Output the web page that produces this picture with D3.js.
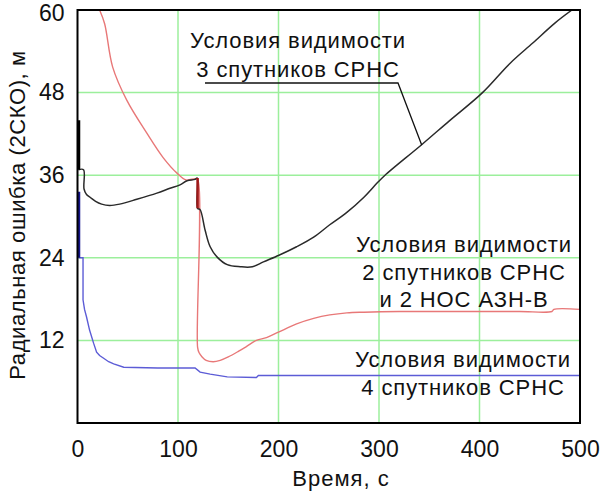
<!DOCTYPE html>
<html>
<head>
<meta charset="utf-8">
<script src="https://cdn.jsdelivr.net/npm/d3@7"></script>
<style>
  body { margin: 0; background: #fff; }
  svg { display: block; }
  text { font-family: "Liberation Sans", Arial, sans-serif; fill: #111; }
</style>
</head>
<body>
<div id="chart"></div>
<script>
// оси
var xTicks = [0, 100, 200, 300, 400, 500];
var yTicks = [12, 24, 36, 48, 60];
var gridX = [100, 200, 300, 400];
var gridY = [12, 24, 36, 48];

// 3 спутника СРНС (черная)
var blackT = [1, 1, 6, 6.5, 9, 12.5, 18, 24, 32, 42, 59, 79, 92, 102, 109, 117, 119, 119.5, 122, 127, 132, 139, 149, 162, 174, 185, 201, 218, 235, 251, 268, 285, 299, 306, 343, 370, 403, 430, 453, 475, 492];
var blackV = [36.8, 36.8, 36.8, 34, 33.2, 32.8, 32.2, 31.8, 31.6, 31.8, 32.5, 33.4, 34.1, 34.6, 35.2, 35.4, 35.6, 31.2, 31, 28, 25.6, 24.1, 23, 22.7, 22.7, 23.4, 24.4, 25.6, 27, 28.8, 30.6, 32.8, 35, 36, 40.5, 43.9, 48, 52.2, 55.2, 58.1, 60];
var blackSpike = [44, 36.8];

// 2 спутника СРНС и 2 НОС АЗН-В (красная)
var redT = [22, 27, 35, 49, 69, 85, 99, 108, 117, 119.5, 119.5, 121, 124, 128, 135, 142, 150, 160, 168, 178, 188, 200, 218, 235, 251, 268, 285, 320, 360, 400, 440, 472, 474, 500];
var redV = [60, 58, 51.7, 46.9, 42.1, 38.6, 36.3, 35.3, 35.5, 35.4, 11, 10.2, 9.6, 9.1, 8.9, 9.1, 9.6, 10.4, 11.1, 12, 12.4, 13.2, 14.4, 15.2, 15.7, 16, 16.1, 16.2, 16.2, 16.2, 16.2, 16.2, 16.5, 16.5];
var redSpike = [35.6, 31.2];

// 4 спутника СРНС (синяя)
var blueT = [1, 5.5, 5.5, 7, 9, 12, 16, 19, 22, 26, 31, 36, 46, 80, 117, 122, 132, 149, 178, 180, 500];
var blueV = [24, 24, 17.9, 16.5, 15.4, 13.5, 11.6, 10.3, 9.8, 9.4, 8.9, 8.6, 8.1, 8.0, 8.0, 7.4, 7.1, 6.7, 6.6, 6.9, 6.9];
var blueSpike = [33.6, 24];

var label3 = ["Условия видимости", "3 спутников СРНС"];
var label22 = ["Условия видимости", "2 спутников СРНС", "и 2 НОС АЗН-В"];
var label4 = ["Условия видимости", "4 спутников СРНС"];

var width = 600, height = 492;
var mLeft = 77.5, mRight = 580, mTop = 10, mBottom = 423;

var svg = d3.select('#chart').append('svg')
    .attr('width', width)
    .attr('height', height);

var x = d3.scaleLinear().domain([0, 500]).range([mLeft, mRight]);
var y = d3.scaleLinear().domain([0, 60]).range([mBottom, mTop]);

svg.append('clipPath').attr('id', 'clip')
  .append('rect')
    .attr('x', mLeft).attr('y', mTop)
    .attr('width', mRight - mLeft).attr('height', mBottom - mTop);

// сетка
svg.selectAll('.gx').data(gridX).enter()
  .append('line')
    .attr('x1', function(d){ return x(d); })
    .attr('x2', function(d){ return x(d); })
    .attr('y1', mTop).attr('y2', mBottom)
    .style('stroke', '#9cef9c').style('stroke-width', 1.5);
svg.selectAll('.gy').data(gridY).enter()
  .append('line')
    .attr('y1', function(d){ return y(d); })
    .attr('y2', function(d){ return y(d); })
    .attr('x1', mLeft).attr('x2', mRight)
    .style('stroke', '#9cef9c').style('stroke-width', 1.5);

var smooth = d3.line()
    .x(function(d){ return x(d[0]); })
    .y(function(d){ return y(d[1]); })
    .curve(d3.curveCatmullRom.alpha(0.5));
var line = d3.line()
    .x(function(d){ return x(d[0]); })
    .y(function(d){ return y(d[1]); });

function pairs(t, v) {
  return t.map(function(d, i){ return [d, v[i]]; });
}

var plot = svg.append('g').attr('clip-path', 'url(#clip)');

plot.append('path')
    .datum(pairs(redT, redV))
    .attr('d', smooth)
    .style('fill', 'none').style('stroke', '#e87878').style('stroke-width', 1.4);

plot.append('path')
    .datum(pairs(blueT, blueV))
    .attr('d', line)
    .style('fill', 'none').style('stroke', '#5c5cd6').style('stroke-width', 1.4);

plot.append('path')
    .datum(pairs(blackT, blackV))
    .attr('d', smooth)
    .style('fill', 'none').style('stroke', '#2a2a2a').style('stroke-width', 1.5);

// толстые вертикальные участки
plot.append('path')
    .datum([[1, blackSpike[0]], [1, blackSpike[1]]])
    .attr('d', line)
    .style('fill', 'none').style('stroke', '#000').style('stroke-width', 3.5);
plot.append('path')
    .datum([[1, blueSpike[0]], [1, blueSpike[1]]])
    .attr('d', line)
    .style('fill', 'none').style('stroke', '#14148c').style('stroke-width', 3.5);
plot.append('path')
    .datum([[119.5, redSpike[0]], [119.5, redSpike[1]]])
    .attr('d', line)
    .style('fill', 'none').style('stroke', '#a01818').style('stroke-width', 2.5);

// рамка
svg.append('rect')
    .attr('x', mLeft).attr('y', mTop)
    .attr('width', mRight - mLeft).attr('height', mBottom - mTop)
    .style('fill', 'none').style('stroke', '#000').style('stroke-width', 2);

// подписи осей
var xAxis = svg.append('g')
    .attr('transform', 'translate(0,' + mBottom + ')')
    .call(d3.axisBottom(x).tickValues(xTicks).tickSize(0).tickPadding(18));
xAxis.select('.domain').remove();
xAxis.selectAll('text').style('font-size', '23px').style('font-family', 'Liberation Sans, Arial, sans-serif').style('fill', '#111');

var yAxis = svg.append('g')
    .attr('transform', 'translate(' + mLeft + ',0)')
    .call(d3.axisLeft(y).tickValues(yTicks).tickSize(0).tickPadding(13));
yAxis.select('.domain').remove();
yAxis.selectAll('text').style('font-size', '23px').style('font-family', 'Liberation Sans, Arial, sans-serif').style('fill', '#111');
yAxis.selectAll('text').filter(function(d){ return d === 60; }).attr('y', 3);

svg.append('text')
    .attr('x', 341).attr('y', 486)
    .attr('text-anchor', 'middle')
    .style('font-size', '22px').style('letter-spacing', '1px')
    .text('Время, с');

svg.append('text')
    .attr('transform', 'translate(25,215) rotate(-90)')
    .attr('text-anchor', 'middle')
    .style('font-size', '22px').style('letter-spacing', '0.6px')
    .text('Радиальная ошибка (2СКО), м');

// надписи
function block(lines, cx, y0, dy) {
  svg.append('g').selectAll('text').data(lines).enter()
    .append('text')
      .attr('x', cx)
      .attr('y', function(d, i){ return y0 + i * dy; })
      .attr('text-anchor', 'middle')
      .style('font-size', '22px').style('letter-spacing', '0.9px')
      .text(function(d){ return d; });
}
block(label3, 298, 48, 29);
block(label22, 464, 252, 27.5);
block(label4, 463, 367, 28);

// выноска к черной кривой
svg.append('path')
    .attr('d', 'M205,83 L398,83 L' + x(342.5) + ',' + y(40.4))
    .style('fill', 'none').style('stroke', '#111').style('stroke-width', 1.3);
</script>
</body>
</html>
